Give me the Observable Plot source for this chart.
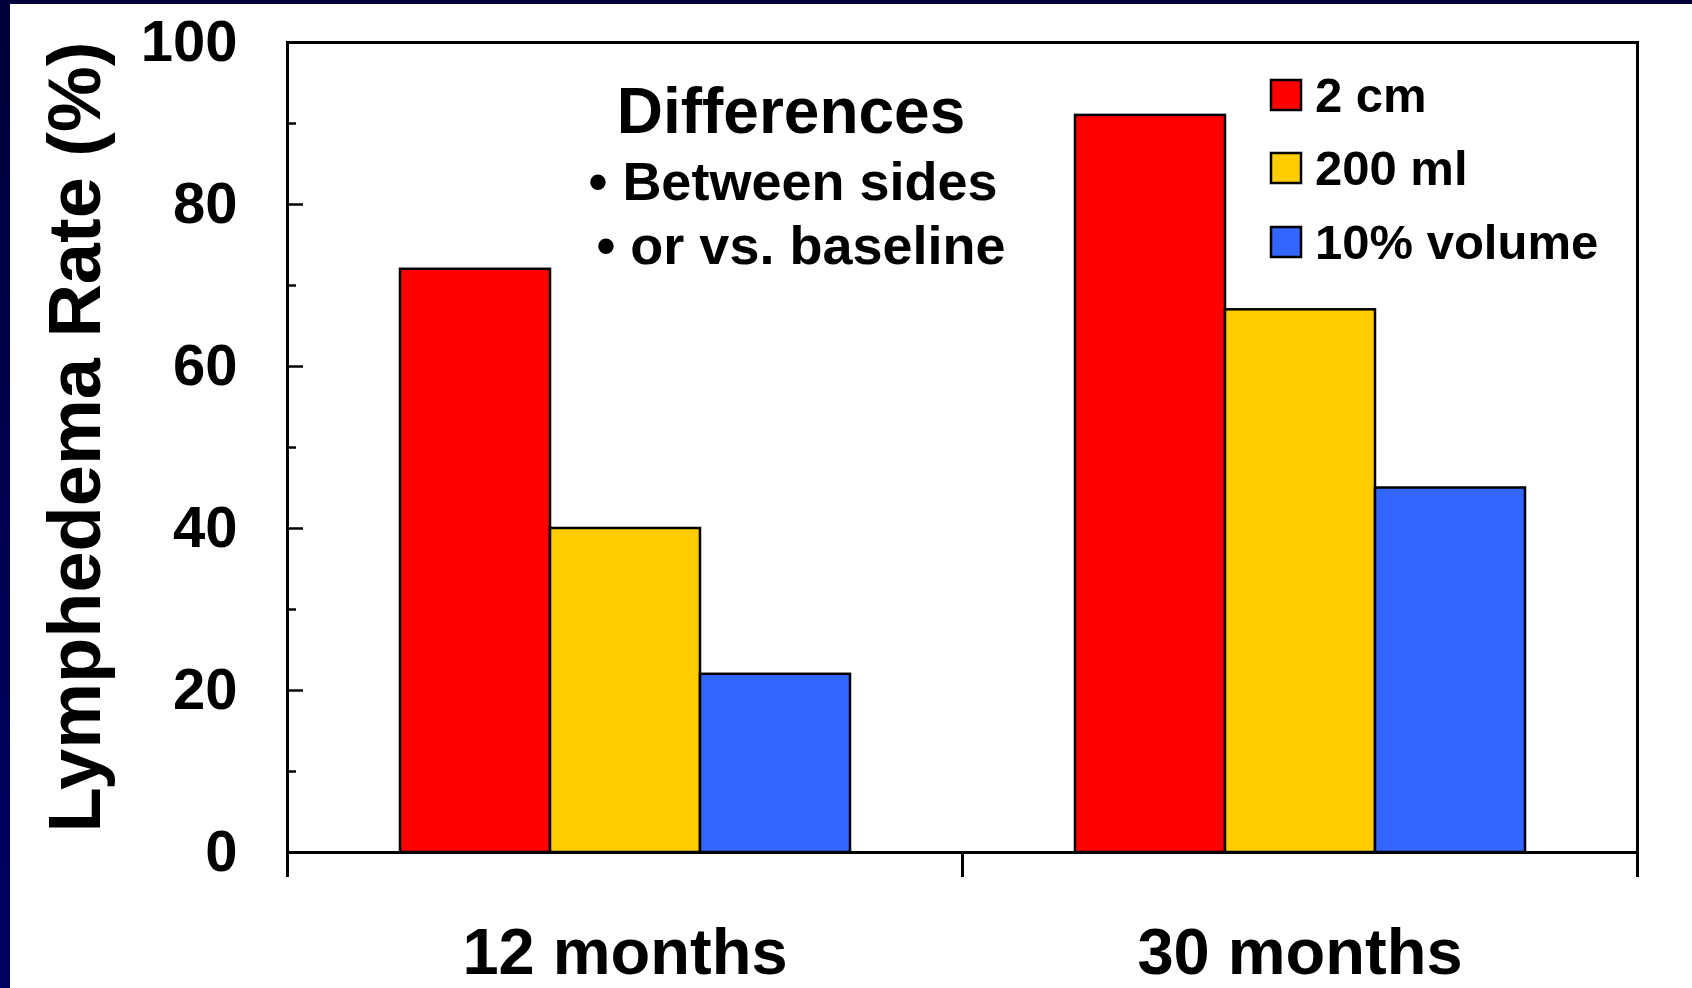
<!DOCTYPE html>
<html>
<head>
<meta charset="utf-8">
<script src="https://cdn.jsdelivr.net/npm/d3@7"></script>
<script src="https://cdn.jsdelivr.net/npm/@observablehq/plot@0.6"></script>
<style>
  html, body { margin: 0; padding: 0; }
  body {
    width: 1692px; height: 988px; overflow: hidden; position: relative;
    background: linear-gradient(#00003a, #000062);
    font-family: "Liberation Sans", Arial, sans-serif;
  }
  #sheet { position: absolute; left: 10px; top: 4px; width: 1682px; height: 984px; background: #fff; }
  #sheet svg { display: block; }
  .note { position: absolute; width: 700px; text-align: center; font-weight: bold; color: #000; white-space: nowrap; }
  #ytitle {
    position: absolute; left: 74.7px; top: 436.5px; width: 900px; height: 74px;
    line-height: 74px; font-size: 74px; font-weight: bold; text-align: center; white-space: nowrap;
    transform: translate(-50%, -50%) rotate(-90deg); color: #000;
  }
  #legend { position: absolute; left: 1271px; top: 57.75px; width: 420px; }
  .leg-swatches { font-family: "Liberation Sans", Arial, sans-serif !important; font-size: 49px !important; font-weight: bold; margin: 0 !important; color: #000; }
  .leg-swatch { height: 73.5px; padding-bottom: 0 !important; display: flex; align-items: center; }
  .leg-swatch > svg { margin-right: 14px !important; overflow: visible; }
  .leg-swatch > svg rect { stroke: #000; stroke-width: 2.5px; }
  .leg-label { line-height: 49px; overflow: visible !important; }
</style>
</head>
<body>
<div id="sheet"></div>
<div id="legend"></div>
<div id="ytitle"></div>
<div class="note" id="note0" style="left:441px; top:78.8px; font-size:64px; line-height:64px;"></div>
<div class="note" id="note1" style="left:443px; top:154.3px; font-size:54px; line-height:54px;"></div>
<div class="note" id="note2" style="left:451px; top:218.3px; font-size:54px; line-height:54px;"></div>
<script>
// Follow-up periods and lymphedema definitions
const periods = ["12 months", "30 months"];
const series = ["2 cm", "200 ml", "10% volume"];
const colors = ["#ff0000", "#ffcc00", "#3366ff"];

// Lymphedema rate (%) per definition
const rate12 = [72, 40, 22];
const rate30 = [91, 67, 45];

const yTicks = [0, 20, 40, 60, 80, 100];
const yMinorTicks = [10, 30, 50, 70, 90];

const yTitle = "Lymphedema Rate (%)";
const noteTitle = "Differences";
const noteLines = ["• Between sides", "• or vs. baseline"];

const rows = [
  ...series.map((s, i) => ({period: periods[0], series: s, rate: rate12[i]})),
  ...series.map((s, i) => ({period: periods[1], series: s, rate: rate30[i]}))
];

const lineW = 3;

const chart = Plot.plot({
  width: 1682,
  height: 984,
  marginTop: 38,
  marginRight: 55,
  marginBottom: 113,
  marginLeft: 277,
  style: {fontFamily: "'Liberation Sans', Arial, sans-serif", background: "#fff", color: "#000", overflow: "visible"},
  fx: {domain: periods, padding: 0},
  x: {domain: series, paddingInner: 0, paddingOuter: 0.75, axis: null},
  y: {domain: [0, 100], range: [848, 38]},
  color: {domain: series, range: colors},
  marks: [
    Plot.barY(rows, {fx: "period", x: "series", y: "rate", fill: "series", stroke: "#000", strokeWidth: 2.5}),
    // frame: top, baseline, outer sides and the divider tick between periods
    Plot.ruleY([100], {stroke: "#000", strokeWidth: lineW}),
    Plot.ruleY([0], {stroke: "#000", strokeWidth: lineW}),
    Plot.frame({anchor: "left", facetAnchor: "left", stroke: "#000", strokeWidth: lineW}),
    Plot.frame({anchor: "right", facetAnchor: "right", stroke: "#000", strokeWidth: lineW}),
    Plot.frame({anchor: "left", facetAnchor: "right", insetTop: 810, stroke: "#000", strokeWidth: lineW}),
    // inward ticks on the y axis
    Plot.axisY({ticks: yTicks, tickSize: 16, dx: 16, tickFormat: () => "", label: null, strokeWidth: 2.5}),
    Plot.axisY({ticks: yMinorTicks, tickSize: 9, dx: 9, tickFormat: () => "", label: null, strokeWidth: 2.5}),
    Plot.axisY({ticks: yTicks, tickSize: 0, tickPadding: 50, fontSize: 58, fontWeight: "bold", label: null}),
    Plot.axisFx({anchor: "bottom", tickSize: 0, tickPadding: 52, fontSize: 65, fontWeight: "bold", label: null})
  ]
});
document.getElementById("sheet").append(chart);

const legend = Plot.legend({
  color: {domain: series, range: colors},
  legend: "swatches",
  columns: 1,
  swatchSize: 30,
  className: "leg"
});
document.getElementById("legend").append(legend);

document.getElementById("ytitle").textContent = yTitle;
document.getElementById("note0").textContent = noteTitle;
document.getElementById("note1").textContent = noteLines[0];
document.getElementById("note2").textContent = noteLines[1];
</script>
</body>
</html>
